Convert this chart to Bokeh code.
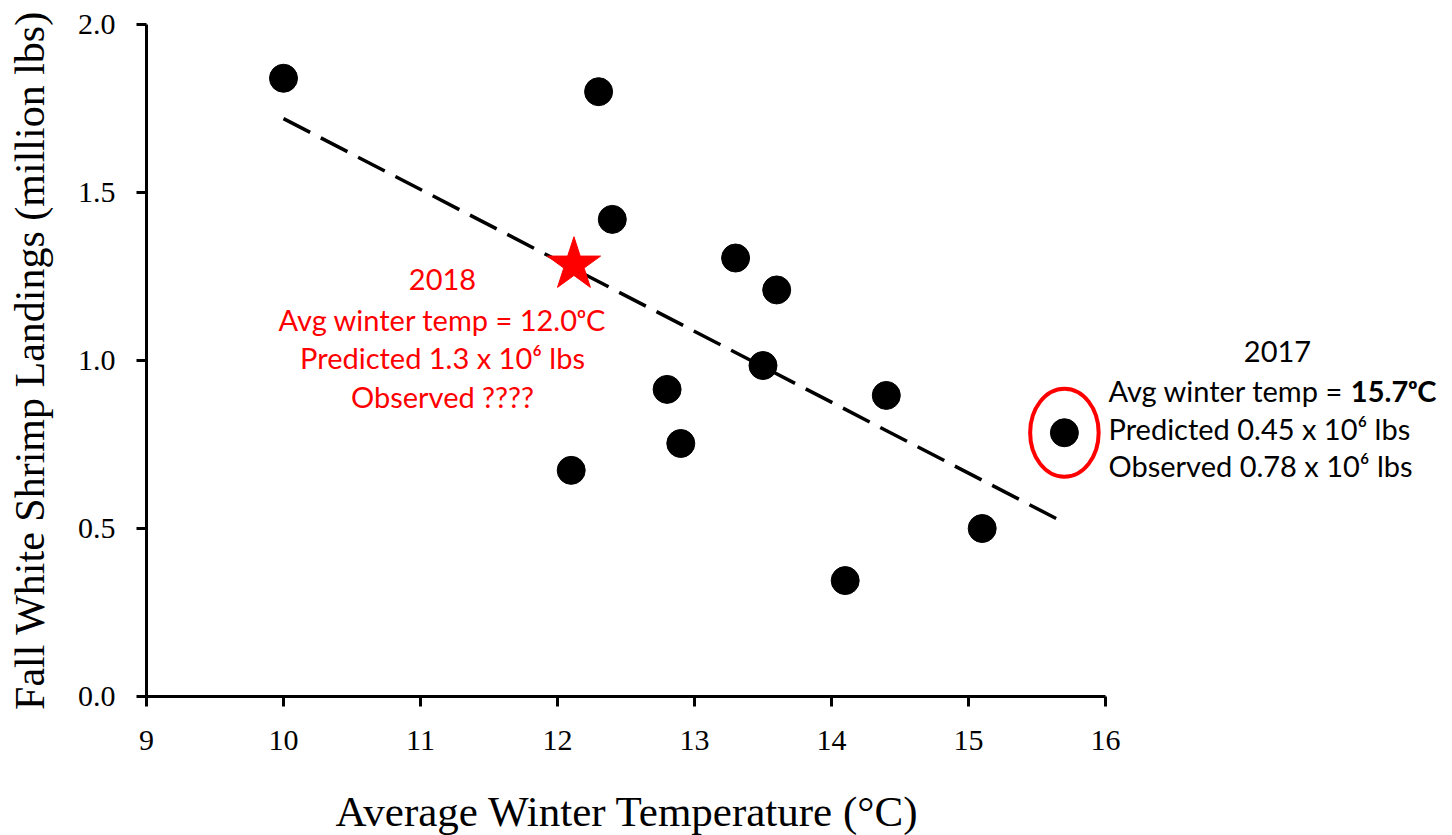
from bokeh.plotting import figure
from bokeh.models import Label, FixedTicker, PrintfTickFormatter, Range1d, Title
from bokeh.embed import file_html
from bokeh.resources import INLINE

# data
temps = [10.0, 12.3, 12.4, 13.3, 13.6, 13.5, 12.8, 12.9, 12.1, 14.4, 15.1, 14.1, 15.7]
landings = [1.84, 1.80, 1.42, 1.305, 1.21, 0.985, 0.914, 0.753, 0.673, 0.896, 0.50, 0.345, 0.785]
trend_x = [10.0, 15.71]
trend_y = [1.72, 0.515]
star_x = [12.12]
star_y = [1.285]
circled_x = [15.7]
circled_y = [0.785]
x_ticks = [9, 10, 11, 12, 13, 14, 15, 16]
y_ticks = [0.0, 0.5, 1.0, 1.5, 2.0]
x_axis_bounds = (9, 16)

W, H = 1452, 835
LEFT, TOP, BOTTOM = 146, 24, 138
PX_PER_X = 137.0
x_end = 9 + (W - LEFT) / PX_PER_X

p = figure(width=W, height=H, output_backend="svg", toolbar_location=None,
           x_range=Range1d(9, x_end), y_range=Range1d(0, 2.0),
           min_border_left=LEFT, min_border_top=TOP, min_border_right=0,
           min_border_bottom=BOTTOM)
p.outline_line_color = None
p.grid.visible = False
p.background_fill_color = "white"
p.border_fill_color = "white"

for ax in (p.xaxis[0], p.yaxis[0]):
    ax.axis_line_width = 3
    ax.axis_line_color = "black"
    ax.major_tick_line_width = 3
    ax.major_tick_line_color = "black"
    ax.major_tick_out = 10
    ax.major_tick_in = 0
    ax.minor_tick_line_color = None
    ax.major_label_text_font = "Liberation Serif"
    ax.major_label_text_font_size = "30px"
    ax.major_label_text_color = "black"
    ax.axis_label_text_font = "Liberation Serif"
    ax.axis_label_text_font_style = "normal"
    ax.axis_label_text_color = "black"

p.xaxis[0].bounds = x_axis_bounds
p.xaxis[0].ticker = FixedTicker(ticks=x_ticks)
p.yaxis[0].ticker = FixedTicker(ticks=y_ticks)
p.yaxis[0].formatter = PrintfTickFormatter(format="%.1f")
p.yaxis[0].axis_label = "Fall White Shrimp Landings (million lbs)"
p.yaxis[0].axis_label_text_font_size = "42px"
p.xaxis[0].major_label_standoff = 24
p.yaxis[0].major_label_standoff = 21
p.yaxis[0].axis_label_standoff = 22
# spacer between the x tick labels and the x-axis title
p.xaxis[0].axis_label = " "
p.xaxis[0].axis_label_text_font_size = "1px"
p.xaxis[0].axis_label_standoff = 28

p.add_layout(Title(text="Average Winter Temperature (\u00b0C)", align="left", offset=189,
                   text_font="Liberation Serif", text_font_size="43px",
                   text_font_style="normal", text_color="black", standoff=2), "below")

p.line(trend_x, trend_y, line_color="black", line_width=3.5, line_dash="30 12")
p.scatter(temps, landings, size=28, fill_color="black", line_color="black")
p.scatter(star_x, star_y, marker="star", size=56, fill_color="#FF0000", line_color="#FF0000")
p.ellipse(x=circled_x, y=circled_y, width=0.50, height=0.262, fill_color=None,
          line_color="#FF0000", line_width=4)

FONT = "Lato"
FS = "29px"

def px2x(px):
    return 9 + (px - LEFT) / PX_PER_X

def px2y(py):
    return (697 - py) / 336.0

red_lines = [("2018", 280), ("Avg winter temp = 12.0\u1d52C", 320),
             ("Predicted 1.3 x 10\u2076 lbs", 358), ("Observed ????", 397)]
for t, py in red_lines:
    p.add_layout(Label(x=px2x(442), y=px2y(py), text=t, text_align="center",
                       text_baseline="middle", text_font=FONT, text_font_size=FS,
                       text_color="#FF0000"))

p.add_layout(Label(x=px2x(1277), y=px2y(352), text="2017", text_align="center",
                   text_baseline="middle", text_font=FONT, text_font_size=FS, text_color="black"))
blk = [("Avg winter temp = ", 391), ("Predicted 0.45 x 10\u2076 lbs", 429),
       ("Observed 0.78 x 10\u2076 lbs", 466)]
for t, py in blk:
    p.add_layout(Label(x=px2x(1108), y=px2y(py), text=t, text_align="left",
                       text_baseline="middle", text_font=FONT, text_font_size=FS,
                       text_color="black"))
p.add_layout(Label(x=px2x(1436), y=px2y(391), text="15.7\u1d52C", text_align="right",
                   text_baseline="middle", text_font=FONT, text_font_size=FS,
                   text_font_style="bold", text_color="black"))

open("out.html", "w").write(file_html(p, INLINE))
